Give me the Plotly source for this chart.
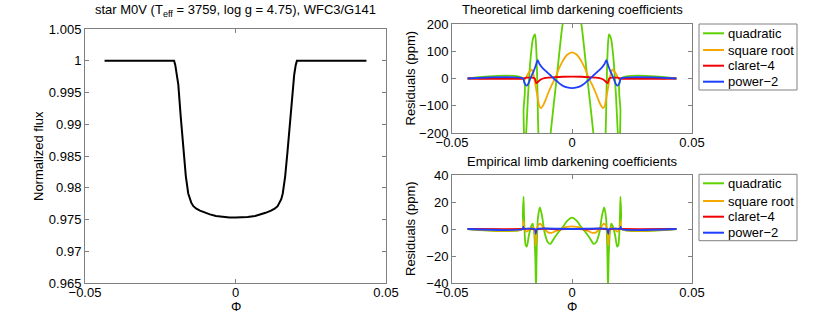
import plotly.graph_objects as go

# ---------------- data ----------------
phase_lc = [-0.0435, -0.0204, -0.0200, -0.0195, -0.0190, -0.0182, -0.0173, -0.0165, -0.0157, -0.0152,
            -0.0147, -0.0140, -0.0130, -0.0118, -0.0100, -0.0085, -0.0065, -0.0040, -0.0020, 0.0,
            0.0020, 0.0040, 0.0065, 0.0085, 0.0100, 0.0118, 0.0130, 0.0140, 0.0147, 0.0152,
            0.0157, 0.0165, 0.0173, 0.0182, 0.0190, 0.0195, 0.0200, 0.0204, 0.0435]
flux_lc = [1.0, 1.0, 0.9993, 0.9978, 0.99625, 0.9912, 0.9858, 0.9818, 0.9791, 0.9782,
           0.97765, 0.9771, 0.9767, 0.9764, 0.97605, 0.9758, 0.97555, 0.9754, 0.97533, 0.9753,
           0.97533, 0.9754, 0.97555, 0.9758, 0.97605, 0.9764, 0.9767, 0.9771, 0.97765, 0.9782,
           0.9791, 0.9818, 0.9858, 0.9912, 0.99625, 0.9978, 0.9993, 1.0, 1.0]

# Theoretical coefficients residuals (ppm)
th_quad_x = [-0.0435, -0.0204, -0.0202, -0.0199, -0.0196, -0.0191, -0.0183, -0.0173, -0.0163, -0.0154,
             -0.0148, -0.0144, -0.0140, -0.0130, -0.0115, -0.0100, -0.0089, -0.0064, -0.0039, -0.0020, 0.0,
             0.0020, 0.0039, 0.0064, 0.0089, 0.0100, 0.0115, 0.0130, 0.0140, 0.0144, 0.0148,
             0.0154, 0.0163, 0.0173, 0.0183, 0.0191, 0.0196, 0.0199, 0.0202, 0.0204, 0.0435]
th_quad_y = [0, 0, -120, -230, -250, -200, -60, 70, 145, 162,
             90, -40, -200, -330, -380, -320, -200, 0, 200, 280, 305,
             280, 200, 0, -200, -320, -380, -330, -200, -40, 90,
             162, 145, 70, -60, -200, -250, -230, -120, 0, 0]

th_sqrt_x = [-0.0435, -0.0204, -0.0198, -0.0190, -0.0180, -0.0168, -0.0160, -0.0152, -0.0144, -0.0137,
             -0.0130, -0.0120, -0.0110, -0.0100, -0.0085, -0.0071, -0.0055, -0.0040, -0.0020, 0.0,
             0.0020, 0.0040, 0.0055, 0.0071, 0.0085, 0.0100, 0.0110, 0.0120, 0.0130, 0.0137,
             0.0144, 0.0152, 0.0160, 0.0168, 0.0180, 0.0190, 0.0198, 0.0204, 0.0435]
th_sqrt_y = [0, 0, -5, 6, 22, 33, 12, -25, -65, -98,
             -109, -98, -78, -55, -25, 0, 35, 62, 87, 96,
             87, 62, 35, 0, -25, -55, -78, -98, -109, -98,
             -65, -25, 12, 33, 22, 6, -5, 0, 0]

th_cl4_x = [-0.0435, -0.0204, -0.0190, -0.0170, -0.0156, -0.0152, -0.0148, -0.0140, -0.0130, -0.0115,
            -0.0100, -0.0070, -0.0040, 0.0, 0.0040, 0.0070, 0.0100, 0.0115, 0.0130, 0.0140,
            0.0148, 0.0152, 0.0156, 0.0170, 0.0190, 0.0204, 0.0435]
th_cl4_y = [0, 0, 3, 3, 1, -8, -17, -11, -4, 1,
            3, 5, 6.5, 7, 6.5, 5, 3, 1, -4, -11,
            -17, -8, 1, 3, 3, 0, 0]

th_pow2_x = [-0.0435, -0.0204, -0.0198, -0.0190, -0.0182, -0.0172, -0.0161, -0.0152, -0.0143, -0.0135,
             -0.0126, -0.0115, -0.0105, -0.0090, -0.0078, -0.0060, -0.0045, -0.0036, -0.0020, 0.0,
             0.0020, 0.0036, 0.0045, 0.0060, 0.0078, 0.0090, 0.0105, 0.0115, 0.0126, 0.0135,
             0.0143, 0.0152, 0.0161, 0.0172, 0.0182, 0.0190, 0.0198, 0.0204, 0.0435]
th_pow2_y = [0, 0, -16, -26, -19, 3, 24, 45, 67, 52,
             42, 32, 24, 12, 2, -12, -23, -28, -33, -35,
             -33, -28, -23, -12, 2, 12, 24, 32, 42, 52,
             67, 45, 24, 3, -19, -26, -16, 0, 0]

# Empirical coefficients residuals (ppm)
em_quad_x = [-0.0435, -0.0207, -0.0205, -0.0202, -0.0199, -0.0193, -0.0188, -0.0180, -0.0170, -0.0164,
             -0.0158, -0.0153, -0.0150, -0.0147, -0.0142, -0.0134, -0.0125, -0.0115, -0.0100, -0.0090,
             -0.0075, -0.0055, -0.0040, -0.0020, 0.0,
             0.0020, 0.0040, 0.0055, 0.0075, 0.0090, 0.0100, 0.0115, 0.0125, 0.0134, 0.0142,
             0.0147, 0.0150, 0.0153, 0.0158, 0.0164, 0.0170, 0.0180, 0.0188, 0.0193, 0.0199,
             0.0202, 0.0205, 0.0207, 0.0435]
em_quad_y = [0, 0, 10, 24, 5, -12, -13, -5, 2, 4,
             -2, -20, -45, -15, 8, 16, 10, -2, -10, -11,
             -7, -2, 1, 6, 8.4,
             6, 1, -2, -7, -11, -10, -2, 10, 16, 8,
             -15, -45, -20, -2, 4, 2, -5, -13, -12, 5,
             24, 10, 0, 0]

em_sqrt_x = [-0.0435, -0.0206, -0.0203, -0.0199, -0.0190, -0.0175, -0.0163, -0.0155, -0.0151, -0.0148,
             -0.0140, -0.0132, -0.0120, -0.0100, -0.0085, -0.0060, -0.0040, -0.0020, 0.0,
             0.0020, 0.0040, 0.0060, 0.0085, 0.0100, 0.0120, 0.0132, 0.0140, 0.0148, 0.0151,
             0.0155, 0.0163, 0.0175, 0.0190, 0.0199, 0.0203, 0.0206, 0.0435]
em_sqrt_y = [0, 0, 6, 1, -2, 0, 1, -3, -12, -2,
             3, 4, 1, -2.5, -2.8, -1, 0.5, 1.5, 2,
             1.5, 0.5, -1, -2.8, -2.5, 1, 4, 3, -2, -12,
             -3, 1, 0, -2, 1, 6, 0, 0]

em_cl4_x = [-0.0435, -0.0204, -0.0180, -0.0152, -0.0120, -0.0060, 0.0, 0.0060, 0.0120, 0.0152,
            0.0180, 0.0204, 0.0435]
em_cl4_y = [0, 0, 0.3, -0.4, 0.2, -0.2, 0.1, -0.2, 0.2, -0.4,
            0.3, 0, 0]

em_pow2_x = [-0.0435, -0.0205, -0.0203, -0.0200, -0.0155, -0.0151, -0.0148, -0.0140, 0.0,
             0.0140, 0.0148, 0.0151, 0.0155, 0.0200, 0.0203, 0.0205, 0.0435]
em_pow2_y = [0, 0, 1.5, 0.3, 0, -3.5, -0.5, 0.2, 0,
             0.2, -0.5, -3.5, 0, 0.3, 1.5, 0, 0]

names = ["quadratic", "square root", "claret\u22124", "power\u22122"]
colors = ["#5fd000", "#f5a800", "#f00000", "#1f3fff"]

x_ticks = [-0.05, 0, 0.05]
x_ticktext = ["\u22120.05", "0", "0.05"]
lc_ticks = [0.965, 0.97, 0.975, 0.98, 0.985, 0.99, 0.995, 1.0, 1.005]
lc_ticktext = ["0.965", "0.97", "0.975", "0.98", "0.985", "0.99", "0.995", "1", "1.005"]
th_ticks = [-200, -100, 0, 100, 200]
th_ticktext = ["\u2212200", "\u2212100", "0", "100", "200"]
em_ticks = [-40, -20, 0, 20, 40]
em_ticktext = ["\u221240", "\u221220", "0", "20", "40"]

# ---------------- figure ----------------
W, H = 830, 319
FONT = "Liberation Sans, Arial, sans-serif"
GRAY = "#808080"

def px(x):
    return x / W

def py(y):
    return 1 - y / H

fig = go.Figure()

fig.add_trace(go.Scatter(x=phase_lc, y=flux_lc, mode="lines",
                         line=dict(color="black", width=2),
                         showlegend=False, xaxis="x", yaxis="y"))

th_sets = [(th_quad_x, th_quad_y), (th_sqrt_x, th_sqrt_y), (th_cl4_x, th_cl4_y), (th_pow2_x, th_pow2_y)]
em_sets = [(em_quad_x, em_quad_y), (em_sqrt_x, em_sqrt_y), (em_cl4_x, em_cl4_y), (em_pow2_x, em_pow2_y)]

for (xs, ys), name, c in zip(th_sets, names, colors):
    fig.add_trace(go.Scatter(x=xs, y=ys, mode="lines", name=name, showlegend=False,
                             line=dict(color=c, width=1.8, shape="spline", smoothing=0.7),
                             xaxis="x2", yaxis="y2"))
for (xs, ys), name, c in zip(em_sets, names, colors):
    fig.add_trace(go.Scatter(x=xs, y=ys, mode="lines", name=name, showlegend=False,
                             line=dict(color=c, width=1.8, shape="spline", smoothing=0.7),
                             xaxis="x3", yaxis="y3"))

axis_common = dict(showline=True, linecolor=GRAY, linewidth=1, mirror="ticks", ticks="inside",
                   ticklen=4, tickcolor=GRAY, showgrid=False, zeroline=False, automargin=False,
                   tickfont=dict(family=FONT, size=13, color="black"))
xaxis_extra = dict(ticklabelstandoff=-3)

fig.update_layout(
    template="none",
    width=W, height=H,
    margin=dict(l=0, r=0, t=0, b=0, pad=0),
    paper_bgcolor="white", plot_bgcolor="white",
    font=dict(family=FONT, size=13, color="black"),
    showlegend=False,
    xaxis=dict(domain=[px(85), px(386)], anchor="y", range=[-0.05, 0.05],
               tickvals=x_ticks, ticktext=x_ticktext, **axis_common, **xaxis_extra),
    yaxis=dict(domain=[py(283), py(29)], anchor="x", range=[0.965, 1.005],
               tickvals=lc_ticks, ticktext=lc_ticktext, **axis_common),
    xaxis2=dict(domain=[px(452), px(692)], anchor="y2", range=[-0.05, 0.05],
                tickvals=x_ticks, ticktext=x_ticktext, **axis_common, **xaxis_extra),
    yaxis2=dict(domain=[py(133), py(24)], anchor="x2", range=[-200, 200],
                tickvals=th_ticks, ticktext=th_ticktext, **axis_common),
    xaxis3=dict(domain=[px(452), px(692)], anchor="y3", range=[-0.05, 0.05],
                tickvals=x_ticks, ticktext=x_ticktext, **axis_common, **xaxis_extra),
    yaxis3=dict(domain=[py(283), py(175)], anchor="x3", range=[-40, 40],
                tickvals=em_ticks, ticktext=em_ticktext, **axis_common),
)

ann = [
    dict(text="star M0V (T<sub>eff</sub> = 3759, log g = 4.75), WFC3/G141", x=px(235.5), y=py(11)),
    dict(text="Theoretical limb darkening coefficients", x=px(572), y=py(9)),
    dict(text="Empirical limb darkening coefficients", x=px(572), y=py(161)),
    dict(text="\u03a6", x=px(235.5), y=py(306.5)),
    dict(text="\u03a6", x=px(572), y=py(306.5)),
    dict(text="Normalized flux", x=px(38), y=py(156), textangle=-90),
    dict(text="Residuals (ppm)", x=px(410), y=py(78.5), textangle=-90),
    dict(text="Residuals (ppm)", x=px(410), y=py(229), textangle=-90),
]
for a in ann:
    fig.add_annotation(xref="paper", yref="paper", showarrow=False, xanchor="center", yanchor="middle",
                       font=dict(family=FONT, size=13, color="black"), **a)

# Legend boxes (drawn in paper space, one per residual panel)
for top, bottom, rows in [(24, 90, [33.3, 50, 65.7, 81.7]), (174.3, 240.7, [183.3, 201, 216.7, 232.7])]:
    fig.add_shape(type="rect", xref="paper", yref="paper",
                  x0=px(699), x1=px(797), y0=py(bottom), y1=py(top),
                  line=dict(color=GRAY, width=1), fillcolor="white", layer="above")
    for ry, name, c in zip(rows, names, colors):
        fig.add_shape(type="line", xref="paper", yref="paper",
                      x0=px(703), x1=px(724), y0=py(ry), y1=py(ry),
                      line=dict(color=c, width=2), layer="above")
        fig.add_annotation(xref="paper", yref="paper", x=px(726), y=py(ry), text=name,
                           showarrow=False, xanchor="left", yanchor="middle",
                           font=dict(family=FONT, size=13, color="black"))

fig.write_html("out.html", config={"displayModeBar": False},
               post_script="document.body.style.margin='0';document.body.style.overflow='hidden';")
